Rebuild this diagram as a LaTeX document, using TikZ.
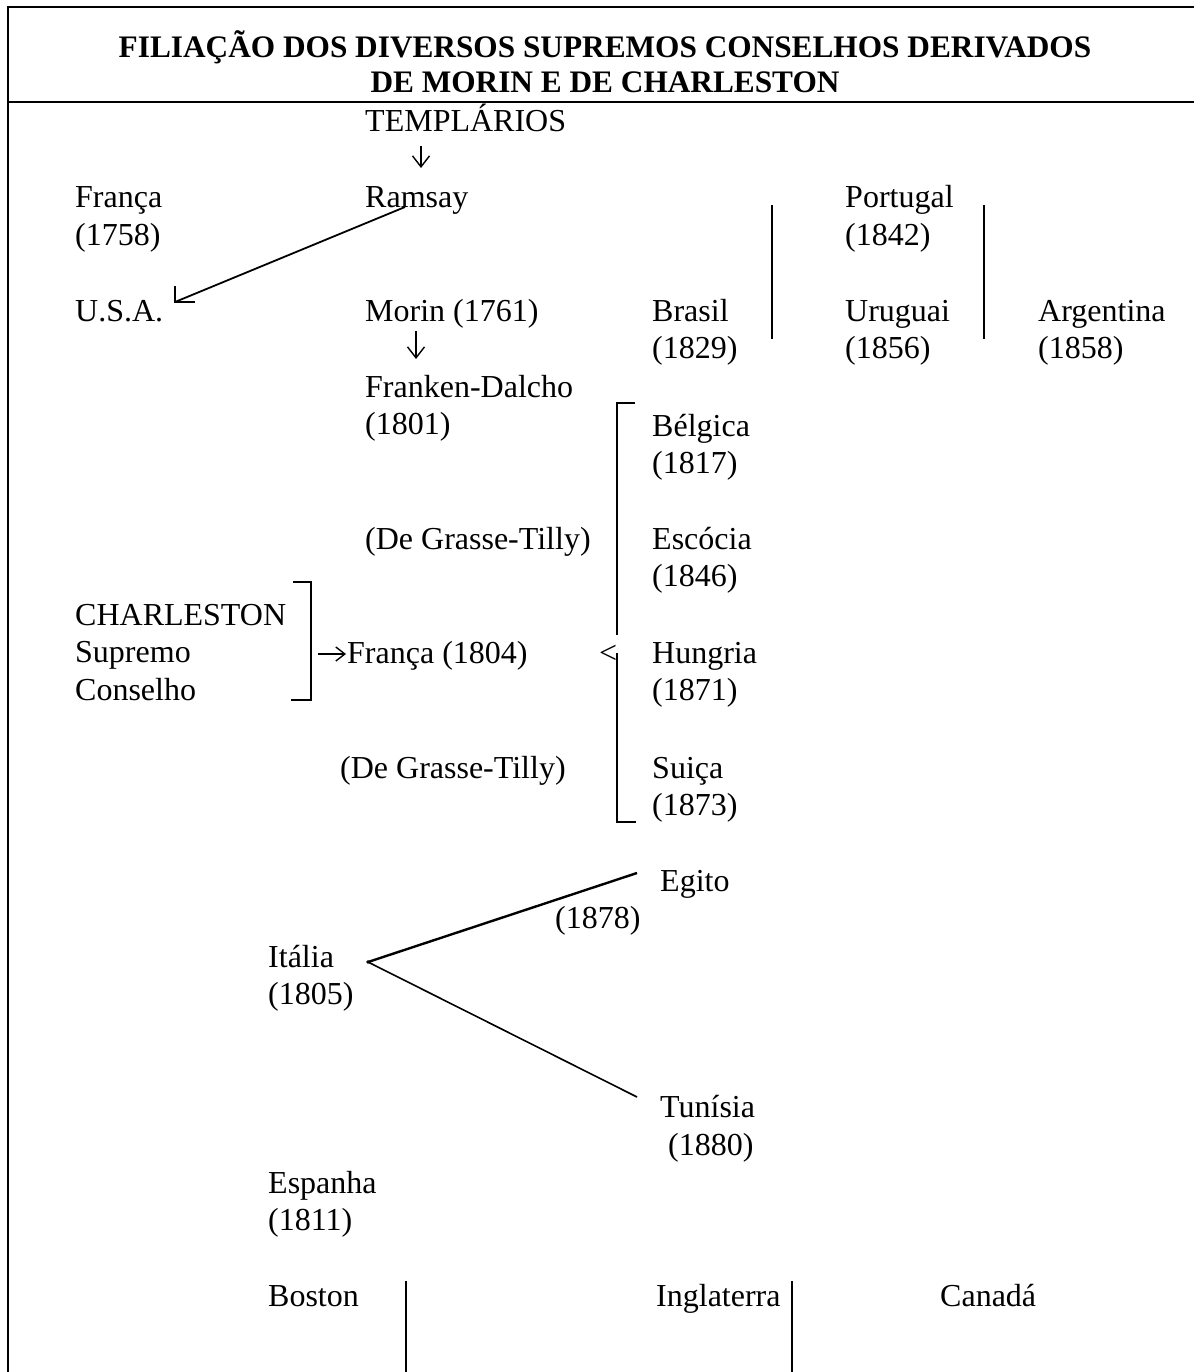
\documentclass[tikz,border=0pt]{standalone}
\usepackage{fontspec}
\setmainfont{Liberation Serif}
\usetikzlibrary{arrows.meta,calc}
\newcommand\twol[2]{\begin{tabular}[t]{@{}l@{}}#1\\#2\end{tabular}}
\begin{document}
\begin{tikzpicture}[x=1pt,y=-1pt,
  lab/.style={anchor=base west,inner sep=0pt,font=\fontsize{32}{37.8}\selectfont},
  ttl/.style={anchor=base,inner sep=0pt,font=\fontsize{31.3}{36}\selectfont\bfseries},
  frame/.style={line width=2.4pt},
  ln/.style={line width=1.8pt},
  dn/.style={line width=1.4pt,-{Straight Barb[length=11pt,width=17pt,line width=1.4pt]}}]
\useasboundingbox (0,0) rectangle (1194,1372);
\fill[white] (0,0) rectangle (1194,1372);
% frame
\draw[frame] (1194,7) -- (8,7) -- (8,1372);
\draw[frame] (8,102) -- (1194,102);
% title
\node[ttl] (title1) at (605,58) {FILIAÇÃO DOS DIVERSOS SUPREMOS CONSELHOS DERIVADOS};
\node[ttl] (title2) at (605,93) {DE MORIN E DE CHARLESTON};
% labels
\node[lab] (templ) at (365,132) {TEMPLÁRIOS};
\node[lab] (ramsay) at (365,208) {Ramsay};
\node[lab] (franca) at (75,208) {\twol{França}{(1758)}};
\node[lab] (portugal) at (845,208) {\twol{Portugal}{(1842)}};
\node[lab] (usa) at (75,321) {U.S.A.};
\node[lab] (morin) at (365,321) {Morin (1761)};
\node[lab] (brasil) at (652,321) {\twol{Brasil}{(1829)}};
\node[lab] (uruguai) at (845,321) {\twol{Uruguai}{(1856)}};
\node[lab] (argentina) at (1038,321) {\twol{Argentina}{(1858)}};
\node[lab] (franken) at (365,397) {\twol{Franken-Dalcho}{(1801)}};
\node[lab] (belgica) at (652,436) {\twol{Bélgica}{(1817)}};
\node[lab] (dgt1) at (365,549) {(De Grasse-Tilly)};
\node[lab] (escocia) at (652,549) {\twol{Escócia}{(1846)}};
\node[lab] (charleston) at (75,625) {\begin{tabular}[t]{@{}l@{}}CHARLESTON\\Supremo\\Conselho\end{tabular}};
\node[lab] (franca2) at (347,663) {França (1804)};
\node[lab] (lt) at (599,663) {<};
\node[lab] (hungria) at (652,663) {\twol{Hungria}{(1871)}};
\node[lab] (dgt2) at (340,778) {(De Grasse-Tilly)};
\node[lab] (suica) at (652,778) {\twol{Suiça}{(1873)}};
\node[lab] (egito) at (660,891) {Egito};
\node[lab] (y1878) at (555,928) {(1878)};
\node[lab] (italia) at (268,967) {\twol{Itália}{(1805)}};
\node[lab] (tunisia) at (660,1117) {Tunísia};
\node[lab] (y1880) at (668,1155) {(1880)};
\node[lab] (espanha) at (268,1193) {\twol{Espanha}{(1811)}};
\node[lab] (boston) at (268,1306) {Boston};
\node[lab] (inglaterra) at (656,1306) {Inglaterra};
\node[lab] (canada) at (940,1306) {Canadá};
% down arrows
\draw[dn] ($(templ.base west)+(56,14)$) -- ($(ramsay.base west)+(56,-40)$);
\draw[dn] ($(morin.base west)+(51,10)$) -- ($(franken.base west)+(51,-38)$);
% Ramsay -> U.S.A.
\coordinate (rs) at ($(ramsay.base west)+(40,-1)$);
\coordinate (usatip) at ($(usa.base west)+(100,-19)$);
\draw[ln] (rs) -- (usatip);
\draw[ln] ($(usatip)+(0,-16)$) -- (usatip) -- ($(usatip)+(20,0)$);
% Charleston bracket and arrow
\draw[ln] (293,582) -- (311,582) -- (311,700) -- (291,700);
\coordinate (cb) at (311,654);
\draw[dn,-{Straight Barb[length=9pt,width=14pt,line width=1.4pt]}] ($(cb)+(7,0)$) -- ($(franca2.base west)+(-1,-9)$);
% big bracket
\draw[ln] (635,403) -- (617,403) -- (617,635);
\draw[ln] (617,653) -- (617,822) -- (636,822);
% vertical separators top
\draw[ln] (772,205) -- (772,339);
\draw[ln] (984,205) -- (984,339);
% Italy branches
\coordinate (iv) at ($(italia.base west)+(100,-5)$);
\coordinate (ie) at ($(egito.base west)+(-23,-18)$);
\coordinate (itu) at ($(tunisia.base west)+(-23,-20)$);
\draw[line width=2.4pt] (iv) -- (ie);
\draw[line width=1.6pt] (iv) -- (itu);
\fill (iv) circle (1.8pt);
% bottom separators
\draw[ln] (406,1281) -- (406,1372);
\draw[ln] (792,1281) -- (792,1372);
\end{tikzpicture}
\end{document}
